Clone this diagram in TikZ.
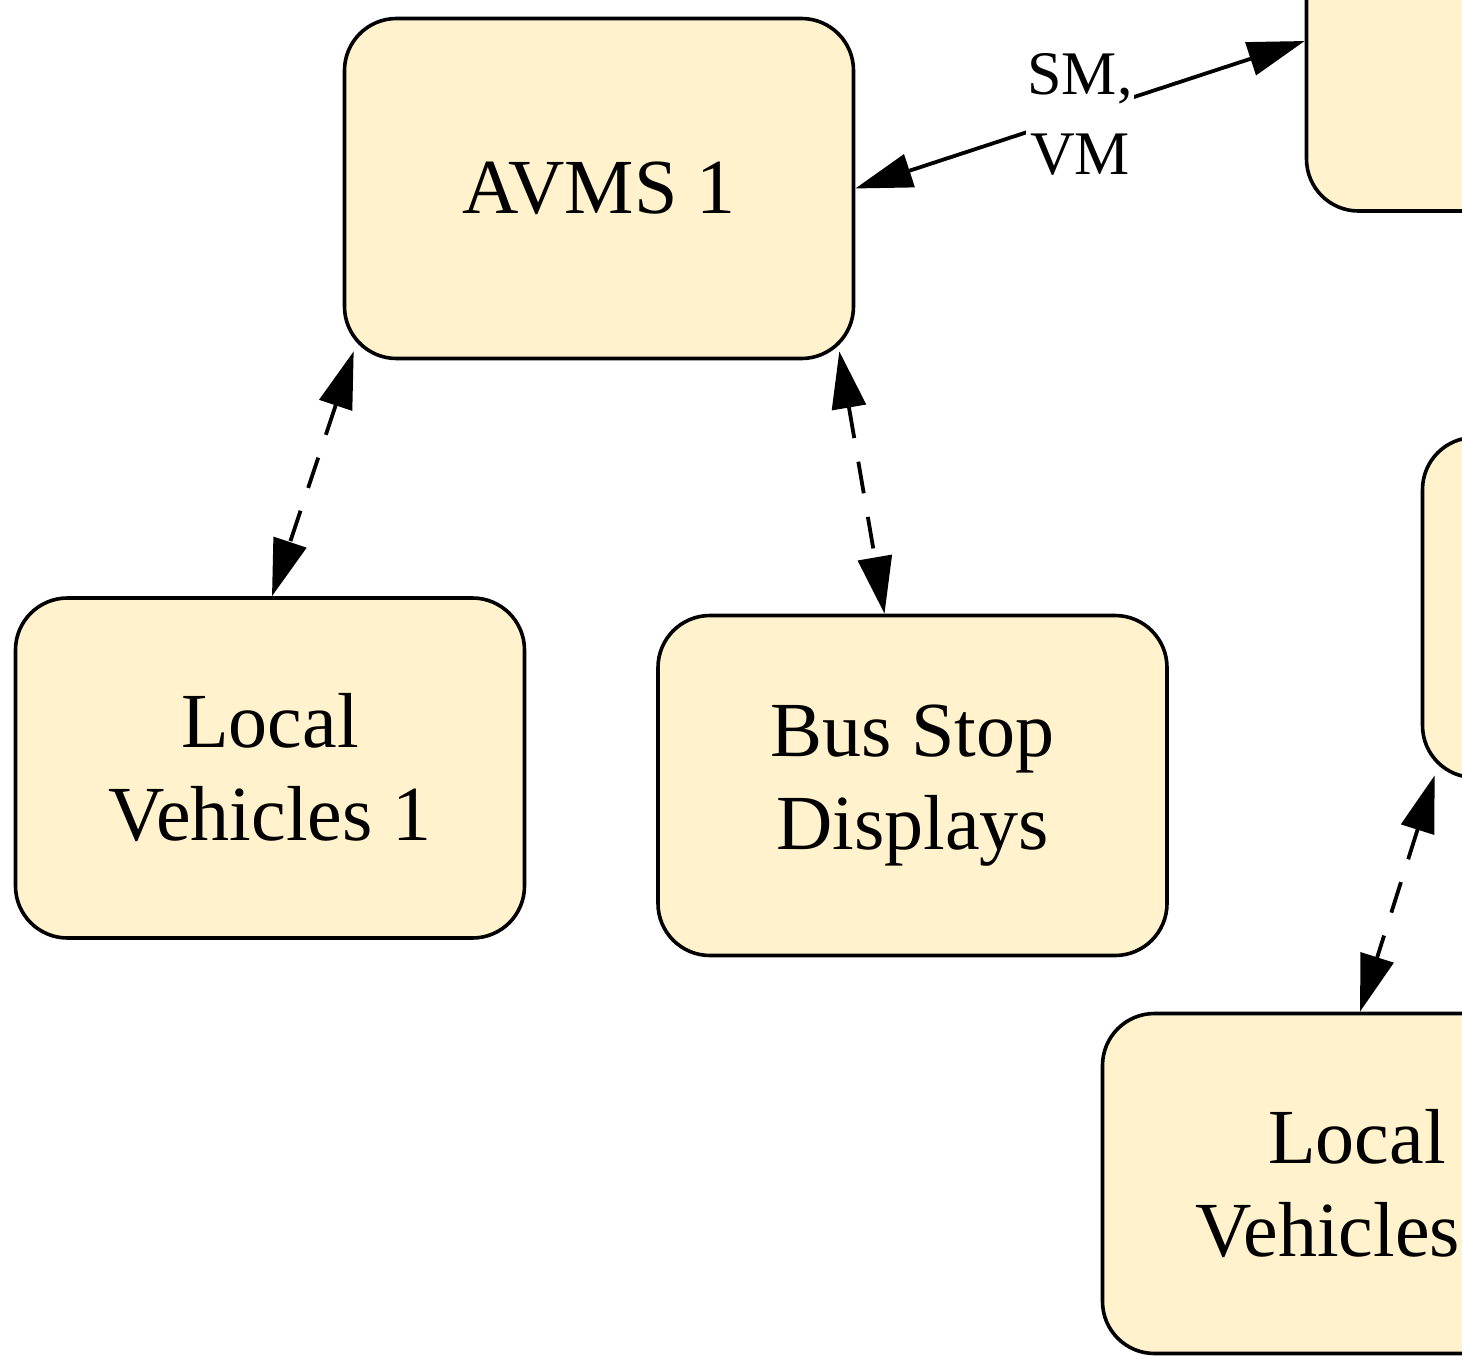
\documentclass[tikz,border=0pt]{standalone}
\usepackage{fontspec}
\setmainfont{Liberation Serif}
\usetikzlibrary{arrows.meta,calc}
\definecolor{boxfill}{RGB}{255,242,204}
\tikzset{
  unit/.style={draw=black, fill=boxfill, line width=3.6pt, rounded corners=52pt,
    minimum width=509pt, minimum height=340pt, inner sep=0pt, align=center,
    font=\fontsize{78}{93}\selectfont},
  link/.style={line width=3.8pt, {Triangle[length=57pt,width=34pt]}-{Triangle[length=57pt,width=34pt]}},
  dlink/.style={link, dash pattern=on 32pt off 24pt},
  lbl/.style={fill=white, inner sep=1pt, align=center, font=\fontsize{62}{80}\selectfont}
}
\begin{document}
\begin{tikzpicture}[x=1pt,y=-1pt]
\useasboundingbox (0,0) rectangle (1462,1357);
\clip (0,0) rectangle (1462,1357);
\node[unit] (avms) at (599,188.5) {AVMS 1};
\node[unit] (lv1) at (270,768) {Local\\Vehicles 1};
\node[unit] (bsd) at (912.5,785.5) {Bus Stop\\Displays};
\node[unit] (tr) at (1561,41) {};
\node[unit] (rm) at (1677,607.5) {};
\node[unit] (br) at (1357,1183.5) {Local\\Vehicles 2};
\draw[link] (avms.east) -- node[lbl] {SM,\\VM} (tr.west);
\draw[dlink] ($(avms.south west)+(11,-9)$) -- ($(lv1.north)+(2,0)$);
\draw[dlink] ($(avms.south east)+(-16,-9)$) -- ($(bsd.north)+(-28,0)$);
\draw[dlink] ($(rm.south west)+(14,-4)$) -- ($(br.north)+(3,0)$);
\end{tikzpicture}
\end{document}
